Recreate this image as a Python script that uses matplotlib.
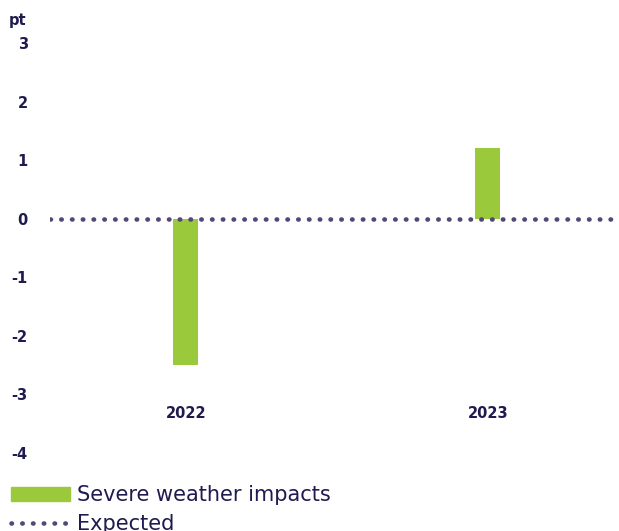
import matplotlib
matplotlib.use("Agg")
from matplotlib import pyplot as plt
from matplotlib.lines import Line2D
from matplotlib.patches import Patch

years = ["2022", "2023"]
weather = [-2.5, 1.2]
expected = [0, 0]
yticks = [3, 2, 1, 0, -1, -2, -3, -4]

navy = "#1f1a4f"
green = "#9aca3c"
dots = "#524778"

fig = plt.figure(figsize=(6.19, 5.31), dpi=100)
ax = fig.add_axes([50 / 619, 1 - 453 / 531, 569 / 619, (453 - 43) / 531])

x = range(len(years))
ax.bar(x, weather, width=0.083, color=green, zorder=2)
ax.plot([-0.45, 1.435], expected, linestyle=(0, (0.1, 2.25)), dash_capstyle="round",
        linewidth=3.3, color=dots, zorder=3)

ax.set_xlim(-0.45, 1.435)
ax.set_ylim(-4, 3)
ax.set_yticks(yticks)
ax.set_yticklabels([str(v) for v in yticks], fontsize=10.5, fontweight="bold",
                   color=navy, family="DejaVu Sans")
ax.tick_params(axis="y", length=0, pad=16)
ax.set_xticks([])
for i, yr in enumerate(years):
    ax.text(i, -3.32, yr, ha="center", va="center", fontsize=10.5,
            fontweight="bold", color=navy, family="DejaVu Sans")
for s in ax.spines.values():
    s.set_visible(False)

fig.text(18 / 619, 1 - 20 / 531, "pt", ha="center", va="center", fontsize=10.5,
         fontweight="bold", color=navy, family="DejaVu Sans")

handles = [Patch(color=green),
           Line2D([0], [0], linestyle=(0, (0.1, 2.25)), dash_capstyle="round",
                  linewidth=3.3, color=dots)]
leg = fig.legend(handles, ["Severe weather impacts", "Expected"],
                 loc="upper left", bbox_to_anchor=(0.005, 1 - 477 / 531),
                 frameon=False, fontsize=15, handlelength=2.8, handleheight=0.6,
                 handletextpad=0.35, labelspacing=0.4, borderaxespad=0)
for t in leg.get_texts():
    t.set_color(navy)
    t.set_family("DejaVu Sans")

fig.savefig("out.png", dpi=100)
